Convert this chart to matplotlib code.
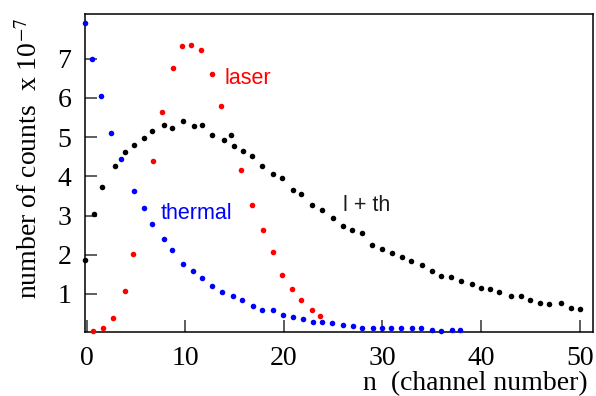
import numpy as np
import matplotlib
matplotlib.use("Agg")
import matplotlib.pyplot as plt

# thermal (blue)
thermal_n = [-0.2, 0.5, 1.5, 2.5, 3.5, 4.8, 5.8, 6.6, 7.8, 8.7, 9.8, 10.8, 11.7, 12.7,
             13.7, 14.8, 15.8, 16.9, 17.8, 18.9, 19.9, 20.9, 21.9, 22.95, 23.9, 24.9,
             26.0, 27.0, 27.9, 29.0, 30.0, 30.9, 31.9, 33.0, 33.9, 35.0, 35.9, 37.0, 37.9]
thermal_y = [7.92, 7.00, 6.05, 5.11, 4.44, 3.63, 3.19, 2.79, 2.40, 2.11, 1.77, 1.58, 1.41,
             1.21, 1.04, 0.96, 0.85, 0.69, 0.60, 0.58, 0.46, 0.42, 0.35, 0.29, 0.29, 0.25,
             0.21, 0.18, 0.13, 0.13, 0.13, 0.13, 0.13, 0.12, 0.12, 0.09, 0.06, 0.08, 0.08]

# laser (red)
laser_n = [0.67, 1.62, 2.64, 3.85, 4.73, 6.72, 7.67, 8.75, 9.63, 10.58, 11.62, 12.68,
           13.62, 15.68, 16.73, 17.91, 18.86, 19.84, 20.82, 21.73, 22.82, 23.7]
laser_y = [0.06, 0.14, 0.38, 1.08, 2.01, 4.38, 5.63, 6.76, 7.33, 7.35, 7.21, 6.62,
           5.79, 4.15, 3.28, 2.64, 2.07, 1.48, 1.12, 0.84, 0.58, 0.45]

# laser + thermal (black)
sum_n = [-0.14, 0.71, 1.55, 2.84, 3.85, 4.83, 5.78, 6.62, 7.81, 8.68, 9.8, 10.85, 11.72,
         12.71, 13.89, 14.67, 14.9, 15.82, 16.76, 17.75, 18.89, 19.84, 20.95, 21.77,
         22.82, 23.83, 24.98, 25.96, 26.9, 27.95, 28.97, 29.95, 31.0, 32.0, 32.86, 33.98,
         35.0, 35.9, 36.95, 37.93, 39.05, 39.96, 40.87, 41.79, 43.0, 44.05, 44.93, 45.94,
         46.92, 48.07, 49.09, 50.03]
sum_y = [1.86, 3.05, 3.72, 4.27, 4.62, 4.79, 4.99, 5.16, 5.32, 5.24, 5.42, 5.29, 5.32,
         5.05, 4.93, 5.06, 4.77, 4.65, 4.53, 4.27, 4.05, 3.96, 3.65, 3.55, 3.28, 3.13,
         2.95, 2.74, 2.63, 2.55, 2.26, 2.15, 2.05, 1.94, 1.83, 1.73, 1.59, 1.46, 1.44,
         1.34, 1.26, 1.15, 1.13, 1.04, 0.94, 0.94, 0.85, 0.77, 0.74, 0.76, 0.65, 0.62]

xticks = [0, 10, 20, 30, 40, 50]
yticks = [1, 2, 3, 4, 5, 6, 7]

plt.rcParams['font.family'] = ['Liberation Serif', 'DejaVu Serif']
plt.rcParams['mathtext.fontset'] = 'stix'

fig = plt.figure(figsize=(5.96, 3.96), dpi=100)
ax = fig.add_axes([0.1431, 0.1624, 0.9945 - 0.1431, 0.9646 - 0.1624])

ms = 4.0
ax.plot(thermal_n, thermal_y, 'o', color='#0000ff', ms=ms, mew=0, clip_on=False, zorder=3)
ax.plot(laser_n, laser_y, 'o', color='#ff0000', ms=ms, mew=0, clip_on=False, zorder=3)
ax.plot(sum_n, sum_y, 'o', color='black', ms=ms, mew=0, clip_on=False, zorder=3)

ax.set_xlim(-0.14, 51.32)
ax.set_ylim(0.038, 8.14)
ax.set_xticks(xticks)
ax.set_yticks(yticks)
ax.tick_params(direction='in', length=8.5, width=1.1, labelsize=20, pad=10,
               top=False, right=False, color='#333333')
for sp in ax.spines.values():
    sp.set_linewidth(1.1)

# a few ticks are drawn blue in the original
for t in ax.xaxis.get_major_ticks():
    if t.get_loc() in (20, 30):
        t.tick1line.set_color('#0000ff')
for t in ax.yaxis.get_major_ticks():
    if t.get_loc() == 7:
        t.tick1line.set_color('#0000ff')

sans = ['Liberation Sans', 'DejaVu Sans']
ax.text(13.95, 6.36, 'laser', color='#ff0000', fontsize=15.5, family=sans, va='baseline')
ax.text(7.54, 2.91, 'thermal', color='#0000ff', fontsize=15.5, family=sans, va='baseline')
ax.text(26.02, 3.12, 'l + th', color='#1a1a1a', fontsize=15.5, family=sans, va='baseline')

fig.text(588 / 596, 1 - 390 / 396, 'n  (channel number)', ha='right', va='baseline',
         fontsize=20)
fig.text(30 / 596, 1 - 158.5 / 396, r'number of counts  x 10$^{-7}$', rotation=90,
         ha='center', va='center', fontsize=20)

fig.savefig('out.png', dpi=100)
